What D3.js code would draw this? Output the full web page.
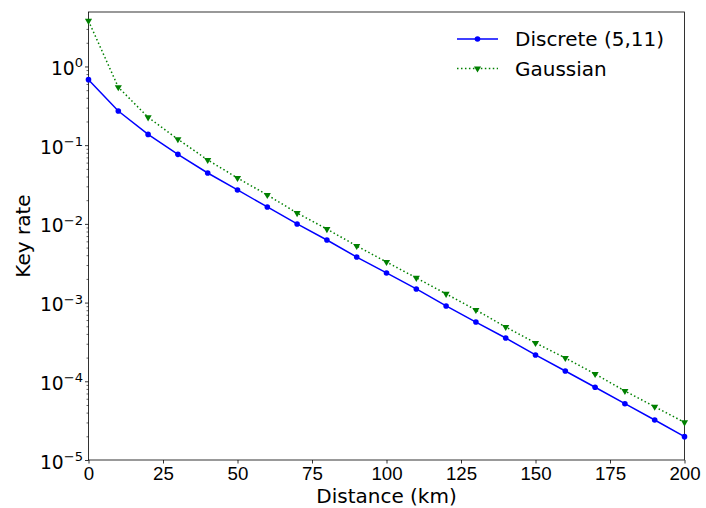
<!DOCTYPE html>
<html>
<head>
<meta charset="utf-8">
<script src="https://cdn.jsdelivr.net/npm/d3@7"></script>
<style>
  body { margin: 0; background: #fff; }
  svg { font-family: "DejaVu Sans", sans-serif; }
</style>
</head>
<body>
<div id="chart"></div>
<script>
"use strict";

// distances (km)
var distances = [0, 10, 20, 30, 40, 50, 60, 70, 80, 90, 100, 110, 120, 130, 140, 150, 160, 170, 180, 190, 200]

// key rates
var discreteRate = [0.68, 0.272, 0.137, 0.0765, 0.0443, 0.027, 0.0164, 0.00998, 0.00624, 0.00379, 0.00238,
    0.00149, 0.000906, 0.000566, 0.000355, 0.000216, 0.000135, 8.4e-5, 5.19e-5, 3.22e-5, 1.98e-5]
var gaussianRate = [3.8, 0.545, 0.226, 0.119, 0.0649, 0.0383, 0.0233, 0.01374, 0.0086, 0.00524, 0.00328,
    0.00206, 0.00129, 0.000805, 0.00049, 0.000307, 0.000198, 0.000124, 7.53e-5, 4.75e-5, 3.01e-5]

var xTicks = [0, 25, 50, 75, 100, 125, 150, 175, 200]
var yDecades = [-5, -4, -3, -2, -1, 0]

var width = 706
var height = 508
var margin = { top: 12, right: 21.5, bottom: 48, left: 88.5 }
var tickFont = 18.7
var labelFont = 20

var svg = d3.select('#chart').append('svg')
    .attr('width', width)
    .attr('height', height)

var x = d3.scaleLinear()
    .domain([0, 200])
    .range([margin.left, width - margin.right])

var y = d3.scaleLog()
    .domain([1e-5, 4.92])
    .range([height - margin.bottom, margin.top])

// minor ticks on the log axis
var minorTicks = []
yDecades.forEach(function (e) {
    for (var k = 2; k <= 9; k++) {
        var v = k * Math.pow(10, e)
        if (v <= y.domain()[1]) minorTicks.push(v)
    }
})

// x axis
var xAxis = svg.append('g')
    .attr('transform', 'translate(0,' + (height - margin.bottom) + ')')
    .call(d3.axisBottom(x).tickValues(xTicks).tickSize(3.5).tickPadding(3.5).tickSizeOuter(0))
xAxis.selectAll('text').attr('font-size', tickFont).attr('fill', '#000')
xAxis.selectAll('line').attr('stroke', '#000').attr('stroke-width', 0.8)
xAxis.select('.domain').remove()

// y axis (major)
var yAxis = svg.append('g')
    .attr('transform', 'translate(' + margin.left + ',0)')
    .call(d3.axisLeft(y).tickValues(yDecades.map(e => Math.pow(10, e))).tickSize(3.5).tickFormat(''))
yAxis.select('.domain').remove()
yAxis.selectAll('line').attr('stroke', '#000').attr('stroke-width', 0.8)

// y axis (minor)
var yMinor = svg.append('g')
    .attr('transform', 'translate(' + margin.left + ',0)')
    .call(d3.axisLeft(y).tickValues(minorTicks).tickSize(2).tickFormat(''))
yMinor.select('.domain').remove()
yMinor.selectAll('line').attr('stroke', '#000').attr('stroke-width', 0.6)

// y tick labels with superscripts
var yLabels = svg.append('g')
yDecades.forEach(function (e) {
    var t = yLabels.append('text')
        .attr('x', margin.left - 5.5)
        .attr('y', y(Math.pow(10, e)) + 8.5)
        .attr('text-anchor', 'end')
        .attr('font-size', tickFont)
    t.append('tspan').text('10')
    t.append('tspan')
        .attr('dy', -7.5)
        .attr('font-size', 13.1)
        .text(e < 0 ? '\u2212' + (-e) : String(e))
})

// frame
svg.append('rect')
    .attr('x', margin.left)
    .attr('y', margin.top)
    .attr('width', width - margin.left - margin.right)
    .attr('height', height - margin.top - margin.bottom)
    .attr('fill', 'none')
    .attr('stroke', '#000')
    .attr('stroke-width', 0.8)

var plot = svg.append('g')

var line = d3.line()
    .x(d => x(d[0]))
    .y(d => y(d[1]))

var discrete = distances.map((d, i) => [d, discreteRate[i]])
var gaussian = distances.map((d, i) => [d, gaussianRate[i]])

// Gaussian (dotted, triangle down)
plot.append('path')
    .datum(gaussian)
    .attr('d', line)
    .attr('fill', 'none')
    .attr('stroke', '#008000')
    .attr('stroke-width', 1.5)
    .attr('stroke-dasharray', '1.5,2.475')

var tri = d3.symbol().type(d3.symbolTriangle).size(22)
plot.selectAll('.gmark')
    .data(gaussian)
    .enter()
    .append('path')
    .attr('class', 'gmark')
    .attr('d', tri)
    .attr('transform', d => 'translate(' + x(d[0]) + ',' + y(d[1]) + ') rotate(180)')
    .attr('fill', '#008000')

// Discrete (solid, dots)
plot.append('path')
    .datum(discrete)
    .attr('d', line)
    .attr('fill', 'none')
    .attr('stroke', '#0000ff')
    .attr('stroke-width', 1.5)

plot.selectAll('.dmark')
    .data(discrete)
    .enter()
    .append('circle')
    .attr('class', 'dmark')
    .attr('cx', d => x(d[0]))
    .attr('cy', d => y(d[1]))
    .attr('r', 2.8)
    .attr('fill', '#0000ff')

// axis labels
svg.append('text')
    .text('Distance (km)')
    .attr('x', (margin.left + width - margin.right) / 2)
    .attr('y', 503)
    .attr('text-anchor', 'middle')
    .attr('font-size', labelFont)

svg.append('text')
    .text('Key rate')
    .attr('transform', 'translate(30,' + ((margin.top + height - margin.bottom) / 2) + ') rotate(-90)')
    .attr('text-anchor', 'middle')
    .attr('font-size', labelFont)

// legend
var legend = svg.append('g')
var legendItems = [
    { label: 'Discrete (5,11)', color: '#0000ff', dash: null, mark: 'circle' },
    { label: 'Gaussian', color: '#008000', dash: '1.5,2.475', mark: 'tri' }
]
legendItems.forEach(function (item, i) {
    var cy = 39 + i * 29.5
    legend.append('line')
        .attr('x1', 457).attr('x2', 498)
        .attr('y1', cy).attr('y2', cy)
        .attr('stroke', item.color)
        .attr('stroke-width', 1.5)
        .attr('stroke-dasharray', item.dash)
    if (item.mark === 'circle') {
        legend.append('circle').attr('cx', 477.5).attr('cy', cy).attr('r', 2.8).attr('fill', item.color)
    } else {
        legend.append('path').attr('d', tri)
            .attr('transform', 'translate(477.5,' + cy + ') rotate(180)')
            .attr('fill', item.color)
    }
    legend.append('text')
        .text(item.label)
        .attr('x', 515)
        .attr('y', cy + 7.2)
        .attr('font-size', labelFont)
})
</script>
</body>
</html>
